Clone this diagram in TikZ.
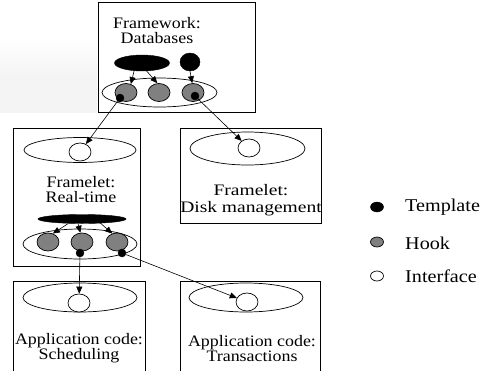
\documentclass[tikz,border=0pt]{standalone}
\usepackage{fontspec}
\setmainfont[FakeStretch=1.12]{Liberation Serif}
\newfontfamily\widefont[FakeStretch=1.22]{Liberation Serif}
\usetikzlibrary{shapes.geometric,arrows.meta,calc}
\definecolor{hookgray}{HTML}{808080}
\definecolor{bandgray}{HTML}{F4F4F4}
\begin{document}
\begin{tikzpicture}[x=1pt,y=-1pt,
  box/.style={draw, line width=0.9pt, inner sep=0},
  ring/.style={draw, ellipse, line width=0.7pt, inner sep=0},
  iface/.style={ring, fill=white, minimum width=22pt, minimum height=18pt},
  hookc/.style={ring, fill=hookgray, minimum width=22pt, minimum height=18pt},
  tdot/.style={draw, ellipse, fill=black, inner sep=0, minimum width=8pt, minimum height=8pt},
  tpl/.style={draw, ellipse, fill=black, inner sep=0},
  lbl/.style={font=\fontsize{16}{15}\selectfont, align=center, inner sep=0},
  leg/.style={font=\fontsize{18}{18}\selectfont, anchor=west, inner sep=0},
  arr/.style={-{Triangle[length=7pt,width=6pt]}, line width=0.6pt},
]
\clip (0,0) rectangle (486,370);
\fill[white] (0,0) rectangle (486,370);
\shade[top color=white, bottom color=bandgray, middle color=bandgray] (0,38) rectangle (97,112);

% ---- Framework: Databases
\node[box, fill=white, minimum width=157pt, minimum height=110pt] (fwbox) at (176.5,57) {};
\node[lbl] (fwt) at (157,31) {Framework:\\Databases};
\node[tpl, minimum width=55pt, minimum height=16pt] (tA) at (142,63) {};
\node[tpl, minimum width=20pt, minimum height=18pt] (tB) at (190,62) {};
\node[ring, minimum width=115pt, minimum height=29pt] (hkA) at (159.5,92.5) {};
\node[hookc] (h1) at (126,92.5) {};
\node[hookc] (h2) at (159,92.5) {};
\node[hookc] (h3) at (193,92.5) {};
\node[tdot] (d1) at (120,98) {};
\node[tdot] (d2) at (195,96) {};
\draw[arr] (tA.225) -- (h1.60);
\draw[arr] (tA.300) -- (h2.100);
\draw[arr] (tB.south) -- (h3.95);

% ---- Framelet: Real-time
\node[box, minimum width=127pt, minimum height=138pt] (rtbox) at (76.5,197) {};
\node[ring, minimum width=112pt, minimum height=25pt] (rtE) at (80,150) {};
\node[iface] (rtI) at (80,152) {};
\node[lbl] (rtT) at (81,189.5) {Framelet:\\Real-time};
\node[tpl, minimum width=88pt, minimum height=9pt] (rtP) at (82,219) {};
\node[ring, minimum width=114pt, minimum height=30pt] (rtH) at (80,244) {};
\node[hookc] (r1) at (48,242) {};
\node[hookc] (r2) at (82,242) {};
\node[hookc] (r3) at (117,242) {};
\node[tdot] (rd1) at (80,253) {};
\node[tdot] (rd2) at (122,253) {};
\draw[arr] ($(rtP.south)+(-14,0)$) -- (r1.60);
\draw[arr] ($(rtP.south)+(-4,0)$) -- (r2.100);
\draw[arr] ($(rtP.south)+(18,-1)$) -- (r3.120);

% ---- Framelet: Disk management
\node[box, minimum width=141pt, minimum height=95pt] (dkbox) at (250.5,175.5) {};
\node[ring, minimum width=115pt, minimum height=33pt] (dkE) at (247.5,148.5) {};
\node[iface] (dkI) at (249,148) {};
\node[lbl, font=\widefont\fontsize{16}{17.5}\selectfont] (dkT) at (251,200) {Framelet:\\Disk management};

% ---- Application code: Scheduling
\node[box, minimum width=132pt, minimum height=99pt] (scbox) at (79,330.5) {};
\node[ring, minimum width=114pt, minimum height=29pt] (scE) at (80,297.5) {};
\node[iface] (scI) at (79,303) {};
\node[lbl] (scT) at (79,348.5) {Application code:\\Scheduling};

% ---- Application code: Transactions
\node[box, minimum width=140pt, minimum height=99pt] (trbox) at (250,330.5) {};
\node[ring, minimum width=114pt, minimum height=29pt] (trE) at (246,297.5) {};
\node[iface] (trI) at (247,302) {};
\node[lbl] (trT) at (252,348.5) {Application code:\\Transactions};

% ---- connectors
\draw[arr] (d1) -- (rtI);
\draw[arr] (d2) -- (dkI);
\draw[arr] (rd1) -- (scI);
\draw[arr] (rd2) -- (trI);

% ---- legend
\node[tpl, minimum width=13pt, minimum height=10pt] (lg1) at (377,207) {};
\node[hookc, minimum width=13pt, minimum height=10pt] (lg2) at (377,242) {};
\node[iface, minimum width=13pt, minimum height=10pt] (lg3) at (377,276) {};
\node[leg] (lt1) at (405,207) {Template};
\node[leg] (lt2) at (405,243) {Hook};
\node[leg] (lt3) at (405,276) {Interface};
\end{tikzpicture}
\end{document}
